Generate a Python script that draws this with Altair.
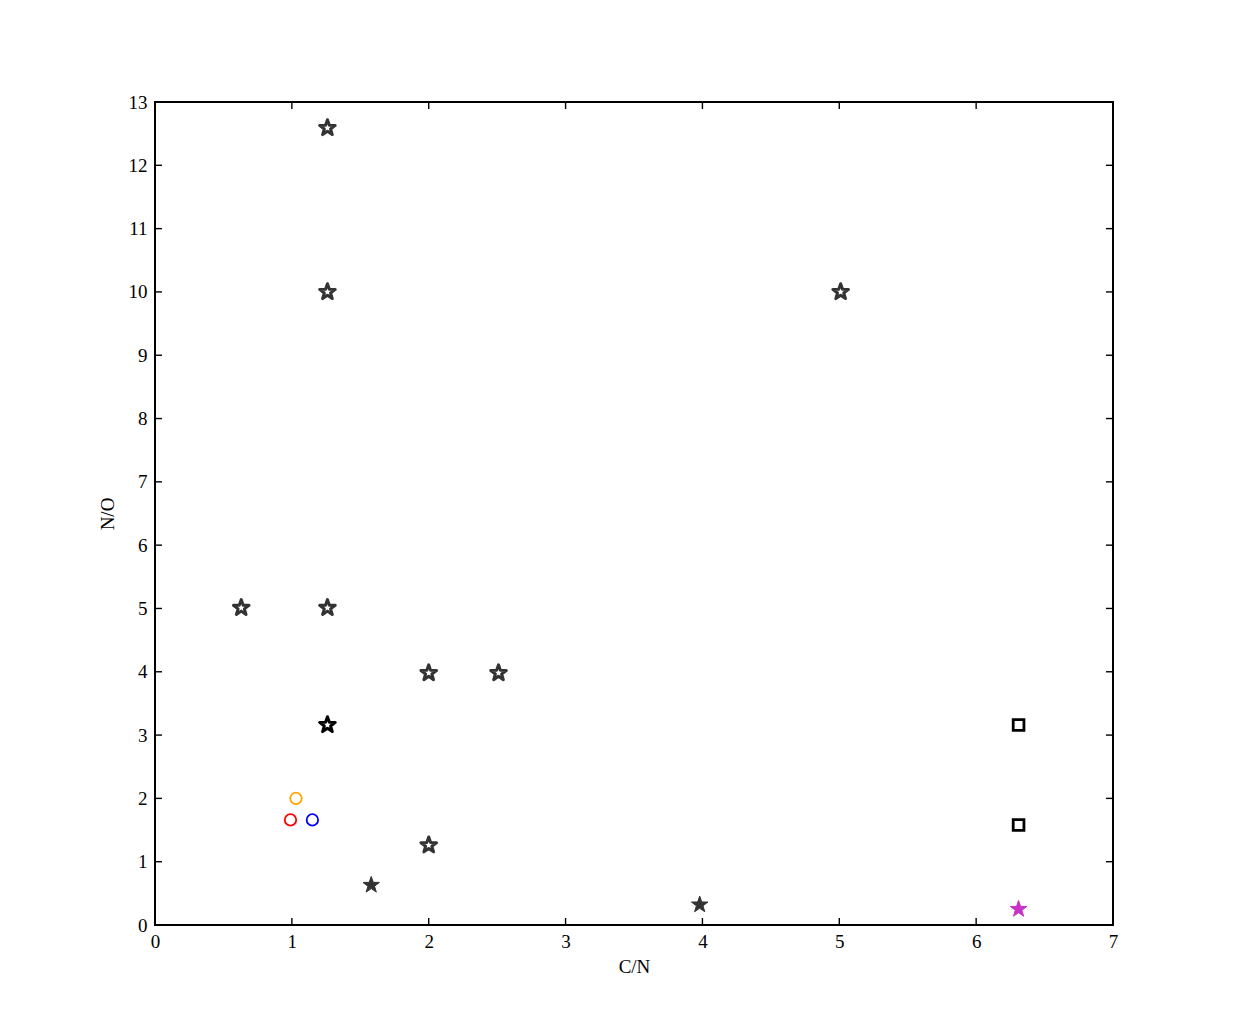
import altair as alt
import pandas as pd

# --- data ---
open_star_x = [0.63, 1.26, 1.26, 1.26, 2.0, 2.51, 2.0, 5.01]
open_star_y = [5.01, 12.59, 10.0, 5.01, 3.98, 3.98, 1.26, 10.0]
black_star_x = [1.26]
black_star_y = [3.16]
filled_star_x = [1.58, 3.98]
filled_star_y = [0.63, 0.32]
magenta_star_x = [6.31]
magenta_star_y = [0.25]
square_x = [6.31, 6.31]
square_y = [3.16, 1.58]
circle_x = [1.03, 0.99, 1.15]
circle_y = [2.0, 1.66, 1.66]
circle_colors = ["#ffa500", "#ff0000", "#0000ff"]
x_ticks = [0, 1, 2, 3, 4, 5, 6, 7]
y_ticks = list(range(0, 14))

W, H = 958, 823
FONT = "Liberation Serif"
STAR = ("M0,-1L0.235,-0.324L0.951,-0.309L0.380,0.124L0.588,0.809L0,0.4"
        "L-0.588,0.809L-0.380,0.124L-0.951,-0.309L-0.235,-0.324Z")

xs = alt.Scale(domain=[0, 7], nice=False, zero=False)
ys = alt.Scale(domain=[0, 13], nice=False, zero=False)

def df(x, y, **extra):
    d = pd.DataFrame({"x": x, "y": y})
    for k, v in extra.items():
        d[k] = v
    return d

xax = alt.Axis(values=x_ticks, format="d", tickSize=0, labelPadding=7, domain=False, grid=False,
               labelFlush=False, labelFont=FONT, labelFontSize=19, titleFont=FONT, titleFontSize=19,
               titleFontWeight="normal", titlePadding=6, labelColor="black", titleColor="black")
yax = alt.Axis(values=y_ticks, format="d", tickSize=0, labelPadding=8, domain=False, grid=False,
               labelFlush=False, labelFont=FONT, labelFontSize=19, titleFont=FONT, titleFontSize=19,
               titleFontWeight="normal", titlePadding=11, labelColor="black", titleColor="black")

base_x = alt.X("x:Q", scale=xs, axis=xax, title="C/N")
base_y = alt.Y("y:Q", scale=ys, axis=yax, title="N/O")

open_stars = alt.Chart(df(open_star_x, open_star_y)).mark_point(
    shape=STAR, size=270, filled=False, stroke="#333333", strokeWidth=3,
    strokeJoin="round", opacity=1
).encode(x=base_x, y=base_y)

black_star = alt.Chart(df(black_star_x, black_star_y)).mark_point(
    shape=STAR, size=270, filled=False, stroke="#000000", strokeWidth=3,
    strokeJoin="round", opacity=1
).encode(x="x:Q", y="y:Q")

filled_stars = alt.Chart(df(filled_star_x, filled_star_y)).mark_point(
    shape=STAR, size=300, filled=True, fill="#333333", stroke="#333333", strokeWidth=1,
    strokeJoin="round", opacity=1
).encode(x="x:Q", y="y:Q")

magenta_star = alt.Chart(df(magenta_star_x, magenta_star_y)).mark_point(
    shape=STAR, size=300, filled=True, fill="#c832c8", stroke="#c832c8", strokeWidth=1,
    strokeJoin="round", opacity=1
).encode(x="x:Q", y="y:Q")

squares = alt.Chart(df(square_x, square_y)).mark_point(
    shape="square", size=115, filled=False, stroke="#000000", strokeWidth=2.8, opacity=1
).encode(x="x:Q", y="y:Q")

circles = alt.Chart(df(circle_x, circle_y, c=circle_colors)).mark_point(
    shape="circle", size=130, filled=False, strokeWidth=1.8, opacity=1
).encode(x="x:Q", y="y:Q", stroke=alt.Stroke("c:N", scale=None, legend=None))

# inward tick marks on all four sides
tx = pd.DataFrame({"t": x_ticks})
ty = pd.DataFrame({"t": y_ticks})
TL = 7
ticks_bottom = alt.Chart(tx).mark_rule(color="black", strokeWidth=1.4).encode(
    x=alt.X("t:Q", scale=xs), y=alt.value(H), y2=alt.value(H - TL))
ticks_top = alt.Chart(tx).mark_rule(color="black", strokeWidth=1.4).encode(
    x=alt.X("t:Q", scale=xs), y=alt.value(0), y2=alt.value(TL))
ticks_left = alt.Chart(ty).mark_rule(color="black", strokeWidth=1.4).encode(
    y=alt.Y("t:Q", scale=ys), x=alt.value(0), x2=alt.value(TL))
ticks_right = alt.Chart(ty).mark_rule(color="black", strokeWidth=1.4).encode(
    y=alt.Y("t:Q", scale=ys), x=alt.value(W), x2=alt.value(W - TL))

chart = alt.layer(
    open_stars, black_star, filled_stars, magenta_star, squares, circles,
    ticks_bottom, ticks_top, ticks_left, ticks_right
).properties(
    width=W, height=H,
    background="white",
    autosize=alt.AutoSizeParams(type="none"),
    padding={"left": 147, "top": 94, "right": 100, "bottom": 100},
).configure_view(
    stroke="black", strokeWidth=2
)

chart.save("out.html", embed_options={"renderer": "svg", "actions": False})
